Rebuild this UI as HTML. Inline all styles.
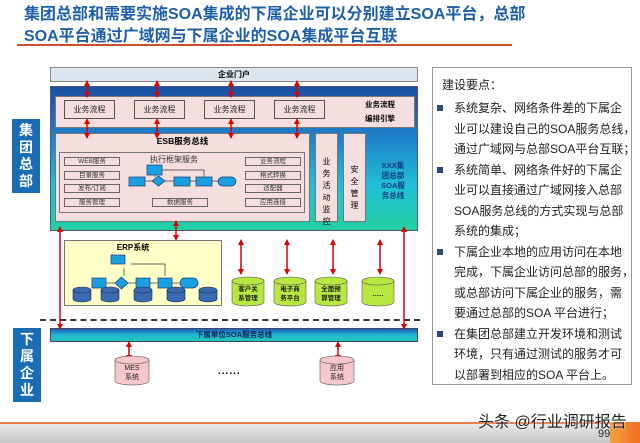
<!DOCTYPE html>
<html><head><meta charset="utf-8">
<style>
body{margin:0;width:640px;height:443px;overflow:hidden;background:#fff;font-family:"Liberation Sans","Noto Sans CJK SC",sans-serif;position:relative}
.a{position:absolute;box-sizing:border-box}
.t{color:#1f5fa8;font-weight:bold;font-size:16px;line-height:22px}
.bp{background:#f4dede;border:1px solid #555;font-size:8px;text-align:center;line-height:17px;color:#222}
.it{background:#f4dede;border:1px solid #666;font-size:6.5px;text-align:center;line-height:8px;color:#333}
.tx{font-size:12px;line-height:20.5px;color:#222;white-space:nowrap}
</style></head><body>
<div class="a t" style="left:24px;top:4px;white-space:nowrap">集团总部和需要实施SOA集成的下属企业可以分别建立SOA平台，总部</div>
<div class="a t" style="left:24px;top:26px;white-space:nowrap">SOA平台通过广域网与下属企业的SOA集成平台互联</div>
<div class="a" style="left:17px;top:44px;width:495px;height:1.5px;background:#c8502a"></div>

<div class="a" style="left:12px;top:119px;width:28px;height:74px;background:#1a6db5;color:#fff;font-weight:bold;font-size:14px;line-height:17px;text-align:center;padding-top:3px">集<br>团<br>总<br>部</div>
<div class="a" style="left:13px;top:328px;width:28px;height:74px;background:#1a6db5;color:#fff;font-weight:bold;font-size:14px;line-height:17px;text-align:center;padding-top:3px">下<br>属<br>企<br>业</div>

<div class="a" style="left:50px;top:67px;width:368px;height:15px;background:#dde6f0;border:1px solid #888;font-size:8px;font-weight:bold;text-align:center;line-height:13px">企业门户</div>
<div class="a" style="left:50px;top:86px;width:368px;height:145px;background:linear-gradient(180deg,#1a4fa0 0%,#1e80c8 35%,#22c0d8 70%,#20d0a0 100%);border:1px solid #557"></div>
<div class="a" style="left:55px;top:96px;width:360px;height:32px;background:#f4dede;border:1px solid #777"></div>
<div class="a bp" style="left:64px;top:100px;width:51px;height:19px">业务流程</div>
<div class="a bp" style="left:134px;top:100px;width:51px;height:19px">业务流程</div>
<div class="a bp" style="left:204px;top:100px;width:51px;height:19px">业务流程</div>
<div class="a bp" style="left:274px;top:100px;width:51px;height:19px">业务流程</div>
<div class="a" style="left:365px;top:98px;font-size:7.5px;font-weight:bold;line-height:14px;text-align:center">业务流程<br>编排引擎</div>

<div class="a" style="left:55px;top:133px;width:255px;height:89px;background:#f4dede;border:1px solid #777"></div>
<div class="a" style="left:55px;top:135px;width:255px;text-align:center;font-size:8.5px;font-weight:bold">ESB服务总线</div>
<div class="a" style="left:59px;top:152px;width:246px;height:61px;border:1px solid #777"></div>
<div class="a it" style="left:64px;top:157px;width:56px;height:9px">WEB服务</div>
<div class="a it" style="left:64px;top:171px;width:56px;height:9px">目录服务</div>
<div class="a it" style="left:64px;top:184px;width:56px;height:9px">发布/订阅</div>
<div class="a it" style="left:64px;top:198px;width:56px;height:9px">服务管理</div>
<div class="a it" style="left:245px;top:157px;width:56px;height:9px">业务流程</div>
<div class="a it" style="left:245px;top:171px;width:56px;height:9px">格式转换</div>
<div class="a it" style="left:245px;top:184px;width:56px;height:9px">适配器</div>
<div class="a it" style="left:245px;top:198px;width:56px;height:9px">应用连接</div>
<div class="a it" style="left:152px;top:198px;width:56px;height:9px">数据服务</div>
<div class="a" style="left:150px;top:154px;font-size:8px;color:#333">执行框架服务</div>
<div class="a" style="left:315px;top:133px;width:23px;height:89px;background:#f4dede;border:1px solid #777;font-size:8px;line-height:12px;text-align:center;padding-top:22px">业<br>务<br>活<br>动<br>监<br>控</div>
<div class="a" style="left:343px;top:133px;width:23px;height:89px;background:#f4dede;border:1px solid #777;font-size:8px;line-height:12px;text-align:center;padding-top:30px">安<br>全<br>管<br>理</div>
<div class="a" style="left:372px;top:161px;width:42px;font-size:7.5px;font-weight:bold;line-height:10px;text-align:center;color:#143c80">XXX集<br>团总部<br>SOA服<br>务总线</div>

<div class="a" style="left:64px;top:240px;width:158px;height:66px;background:#ffffc8;border:1px solid #777"></div>
<div class="a" style="left:64px;top:242px;width:158px;text-align:center;font-size:8px;font-weight:bold;padding-right:20px;box-sizing:border-box">ERP系统</div>

<div class="a" style="left:40px;top:319px;width:380px;border-top:2px dashed #333"></div>
<div class="a" style="left:50px;top:328px;width:368px;height:14px;background:linear-gradient(180deg,#1a60b8,#22b8d8,#20c8b0);border:1px solid #446;font-size:7.5px;font-weight:bold;text-align:center;line-height:12px;color:#102050">下属单位SOA服务总线</div>
<div class="a" style="left:218px;top:366px;font-size:10px;font-weight:bold;letter-spacing:1px">......</div>

<svg class="a" style="left:0;top:0" width="640" height="443">
<defs><marker id="h" markerWidth="6" markerHeight="6" refX="3" refY="3" orient="auto-start-reverse" markerUnits="userSpaceOnUse"><path d="M0,0 L6,3 L0,6z" fill="#d00"/></marker></defs>
<g stroke="#d00" stroke-width="1.5" marker-start="url(#h)" marker-end="url(#h)">
<line x1="87" y1="83" x2="87" y2="95"/><line x1="157" y1="83" x2="157" y2="95"/><line x1="231" y1="83" x2="231" y2="95"/><line x1="297" y1="83" x2="297" y2="95"/>
<line x1="87" y1="121" x2="87" y2="136"/><line x1="157" y1="121" x2="157" y2="136"/><line x1="231" y1="121" x2="231" y2="136"/><line x1="297" y1="121" x2="297" y2="136"/>
<line x1="60" y1="229" x2="60" y2="327"/><line x1="404" y1="229" x2="404" y2="327"/><line x1="176" y1="223" x2="176" y2="238"/>
<line x1="241" y1="242" x2="241" y2="272"/><line x1="287" y1="242" x2="287" y2="272"/><line x1="333" y1="242" x2="333" y2="272"/><line x1="380" y1="242" x2="380" y2="272"/>
<line x1="129" y1="344" x2="129" y2="358"/><line x1="338" y1="344" x2="338" y2="358"/>
</g>
<g stroke="#333" stroke-width="0.7" fill="none">
<polyline points="145,181 152,181"/><polyline points="165,181 174,181"/><polyline points="190,181 196,181"/><polyline points="212,181 218,181"/>
<polyline points="155,175 155,177"/><polyline points="162,170 204,170 204,177"/>
<polyline points="106,283 115,283"/><polyline points="128,283 136,283"/><polyline points="150,283 158,283"/><polyline points="172,283 180,283"/>
<polyline points="124,268 124,276"/><polyline points="131,264 165,264 165,276"/>
</g>
<g fill="#1aa0e0" stroke="#1a3a70" stroke-width="0.7">
<rect x="129" y="177" width="16" height="9"/><polygon points="158.5,176 165,181 158.5,186 152,181"/><rect x="174" y="177" width="16" height="9"/><rect x="196" y="177" width="16" height="9"/><rect x="218" y="177" width="18" height="9" rx="4.5"/><rect x="147" y="165" width="15" height="10"/>
<rect x="92" y="278" width="14" height="10"/><polygon points="121.5,277 128,283 121.5,289 115,283"/><rect x="136" y="278" width="14" height="10"/><rect x="158" y="278" width="14" height="10"/><rect x="180" y="278" width="18" height="10" rx="5"/><rect x="111" y="255" width="14" height="9"/>
</g>
<g fill="#3a6ab0" stroke="#1a2a50" stroke-width="0.6">
<path d="M73,290 v9 a9,3 0 0 0 18,0 v-9z"/><ellipse cx="82" cy="290" rx="9" ry="3"/>
<path d="M101,290 v9 a9,3 0 0 0 18,0 v-9z"/><ellipse cx="110" cy="290" rx="9" ry="3"/>
<path d="M134,290 v9 a9,3 0 0 0 18,0 v-9z"/><ellipse cx="143" cy="290" rx="9" ry="3"/>
<path d="M167,290 v9 a9,3 0 0 0 18,0 v-9z"/><ellipse cx="176" cy="290" rx="9" ry="3"/>
<path d="M199,290 v9 a9,3 0 0 0 18,0 v-9z"/><ellipse cx="208" cy="290" rx="9" ry="3"/>
</g>
<g fill="#b8e840" stroke="#556" stroke-width="0.6">
<path d="M232,281 v21 a16,4 0 0 0 32,0 v-21z"/><ellipse cx="248" cy="281" rx="16" ry="4"/>
<path d="M274,281 v21 a16,4 0 0 0 32,0 v-21z"/><ellipse cx="290" cy="281" rx="16" ry="4"/>
<path d="M315,281 v21 a16,4 0 0 0 32,0 v-21z"/><ellipse cx="331" cy="281" rx="16" ry="4"/>
<path d="M362,281 v21 a16,4 0 0 0 32,0 v-21z"/><ellipse cx="378" cy="281" rx="16" ry="4"/>
</g>
<g fill="#f6c8cc" stroke="#555" stroke-width="0.6">
<path d="M115,360 v21 a17,4 0 0 0 34,0 v-21z"/><ellipse cx="132" cy="360" rx="17" ry="4"/>
<path d="M320,360 v21 a17,4 0 0 0 34,0 v-21z"/><ellipse cx="337" cy="360" rx="17" ry="4"/>
</g>
<g font-size="6.5" font-weight="bold" text-anchor="middle" fill="#222" font-family="Liberation Sans,Noto Sans CJK SC,sans-serif">
<text x="248" y="291">客户关</text><text x="248" y="300">系管理</text>
<text x="290" y="291">电子商</text><text x="290" y="300">务平台</text>
<text x="331" y="291">全面预</text><text x="331" y="300">算管理</text>
<text x="378" y="296">......</text>
<text x="132" y="370" font-weight="normal" font-size="7">MES</text><text x="132" y="379" font-weight="normal" font-size="7">系统</text>
<text x="337" y="370" font-weight="normal" font-size="7">应用</text><text x="337" y="379" font-weight="normal" font-size="7">系统</text>
</g>
</svg>

<div class="a" style="left:432px;top:67px;width:200px;height:318px;border:1px solid #999"></div>
<div class="a tx" style="left:442px;top:75px">建设要点：</div>
<div class="a tx" style="left:454px;top:98px">系统复杂、网络条件差的下属企<br>业可以建设自己的SOA服务总线，<br>通过广域网与总部SOA平台互联；<br>系统简单、网络条件好的下属企<br>业可以直接通过广域网接入总部<br>SOA服务总线的方式实现与总部<br>系统的集成；<br>下属企业本地的应用访问在本地<br>完成，下属企业访问总部的服务，<br>或总部访问下属企业的服务，需<br>要通过总部的SOA 平台进行；<br>在集团总部建立开发环境和测试<br>环境，只有通过测试的服务才可<br>以部署到相应的SOA 平台上。</div>
<div class="a" style="left:437px;top:105px;width:6px;height:6px;background:#2a4a7a"></div>
<div class="a" style="left:437px;top:167px;width:6px;height:6px;background:#2a4a7a"></div>
<div class="a" style="left:437px;top:249px;width:6px;height:6px;background:#2a4a7a"></div>
<div class="a" style="left:437px;top:331px;width:6px;height:6px;background:#2a4a7a"></div>

<div class="a" style="left:0;top:422px;width:640px;height:2px;background:#e8804a"></div>
<div class="a" style="left:0;top:424px;width:640px;height:19px;background:linear-gradient(180deg,#e8e8e8,#c8c8c8)"></div>
<div class="a" style="left:610px;top:422px;width:30px;height:21px;background:linear-gradient(90deg,#f0a040,#f07020)"></div>
<div class="a" style="left:478px;top:408px;font-size:16px;color:#222;text-shadow:0 0 2px #fff">头条 @行业调研报告</div>
<div class="a" style="left:598px;top:428px;font-size:11px;color:#222">99</div>
</body></html>
